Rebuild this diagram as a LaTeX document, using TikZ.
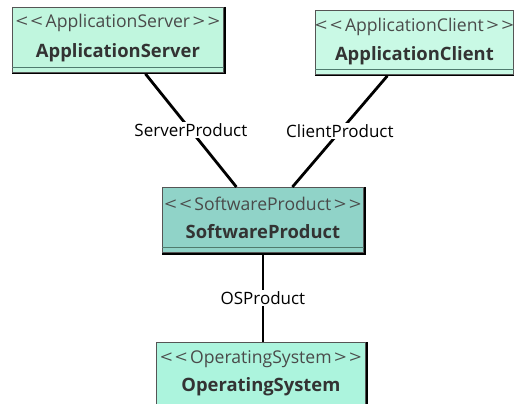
\documentclass[tikz,border=0pt]{standalone}
\usepackage{fontspec}
\usepackage{graphicx}
\setmainfont{Open Sans}
\usetikzlibrary{calc}
\definecolor{asfill}{HTML}{C0F6DE}
\definecolor{acfill}{HTML}{C9F9E5}
\definecolor{spfill}{HTML}{90D3C8}
\definecolor{osfill}{HTML}{ACF4DD}
\definecolor{boxedge}{HTML}{555555}
\definecolor{compline}{HTML}{4F7B6E}
\definecolor{stereotext}{HTML}{4A4A4A}
\definecolor{nametext}{HTML}{333333}
% stereotype brackets: widened angle characters
\newcommand{\wlt}{\scalebox{1.25}[1]{\textless}}
\newcommand{\wgt}{\scalebox{1.25}[1]{\textgreater}}
\newcommand{\stlt}{\wlt\kern2.4pt\wlt\kern2.6pt}
\newcommand{\stgt}{\kern2.6pt\wgt\kern2.4pt\wgt}
\begin{document}
\begin{tikzpicture}[x=1pt,y=-1pt,
  classbox/.style={draw=boxedge, line width=0.8pt, anchor=north west, inner sep=0pt},
  shadowline/.style={draw=black, line width=1.4pt},
  divider/.style={draw=compline, line width=0.8pt},
  stereo/.style={anchor=base, inner sep=0pt, text=stereotext, font=\fontsize{17.6}{19}\selectfont},
  classname/.style={anchor=base, inner sep=0pt, text=nametext, font=\fontsize{18.4}{20}\selectfont\bfseries},
  assoc/.style={draw=black, line width=2.8pt},
  rolelabel/.style={fill=white, inner sep=1.5pt, text=black, font=\fontsize{17}{19}\selectfont}
]
\useasboundingbox (0,0) rectangle (514,404);

% class boxes
\node[classbox, fill=asfill, minimum width=211pt, minimum height=65pt] (as) at (12,7) {};
\node[classbox, fill=acfill, minimum width=198pt, minimum height=64pt] (ac) at (315,10) {};
\node[classbox, fill=spfill, minimum width=201pt, minimum height=65pt] (sp) at (162,187) {};
\node[classbox, fill=osfill, minimum width=209pt, minimum height=70pt] (os) at (156,342) {};

% drop shadows and compartment dividers
\foreach \b in {as,ac,sp,os}{
  \draw[shadowline] ([xshift=1pt]\b.north east) -- ([xshift=1pt,yshift=-1pt]\b.south east) -- ([yshift=-1pt]\b.south west);
  \draw[divider] ([yshift=5pt]\b.south west) -- ([yshift=5pt]\b.south east);
}

% class texts
\node[stereo] (asst) at ([yshift=-21pt]as.north) {\stlt ApplicationServer\stgt};
\node[classname] (asnm) at ([yshift=-51pt]as.north) {ApplicationServer};
\node[stereo] (acst) at ([yshift=-22pt]ac.north) {\stlt ApplicationClient\stgt};
\node[classname] (acnm) at ([yshift=-50pt]ac.north) {ApplicationClient};
\node[stereo] (spst) at ([yshift=-23pt]sp.north) {\stlt SoftwareProduct\stgt};
\node[classname] (spnm) at ([yshift=-51pt]sp.north) {SoftwareProduct};
\node[stereo] (osst) at ([yshift=-21pt]os.north) {\stlt OperatingSystem\stgt};
\node[classname] (osnm) at ([yshift=-49pt]os.north) {OperatingSystem};

% associations
\draw[assoc] ([xshift=27.5pt,yshift=-1pt]as.south) -- node[rolelabel] {ServerProduct} ([xshift=-26.5pt]sp.north);
\draw[assoc] ([xshift=-27pt,yshift=-1pt]ac.south) -- node[rolelabel] {ClientProduct} ([xshift=29.5pt]sp.north);
\draw[assoc] ([yshift=-1pt]sp.south) -- node[rolelabel] {OSProduct} (sp.south |- os.north);
\end{tikzpicture}
\end{document}
